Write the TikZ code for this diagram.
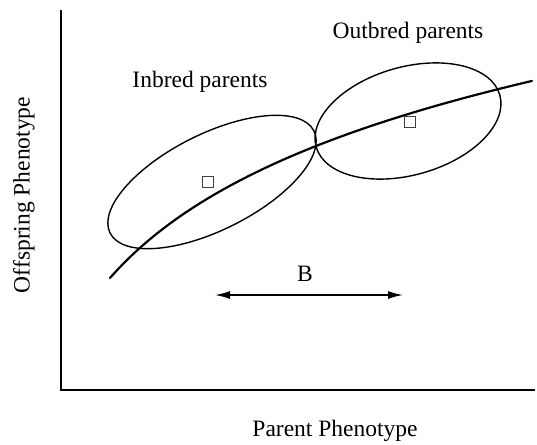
\documentclass[tikz,border=0pt]{standalone}
\usepackage{fontspec}
\setmainfont{Liberation Serif}
\usetikzlibrary{arrows.meta}
\begin{document}
\begin{tikzpicture}[x=1pt,y=1pt,
  lbl/.style={font=\fontsize{23.5}{25}\selectfont, inner sep=0pt},
  axis/.style={line width=1.4pt},
  ell/.style={line width=1.4pt},
  sq/.style={draw=black!75, line width=1pt, minimum size=11pt, inner sep=0pt},
  barrow/.style={line width=1.4pt, {Latex[length=15pt,width=8pt]}-{Latex[length=15pt,width=8pt]}}]
\useasboundingbox (0,0) rectangle (537,-444);
% axes
\coordinate (ytop) at (61,-10);
\coordinate (orig) at (61,-390);
\coordinate (xend) at (535,-390);
\draw[axis] (ytop) -- (orig) -- (xend);
% ellipses
\draw[ell, rotate around={26.6:(212,-182)}] (212,-182) ellipse [x radius=114pt, y radius=48pt];
\draw[ell, rotate around={15.8:(408,-121)}] (408,-121) ellipse [x radius=95.4pt, y radius=54pt];
% regression curve
\draw[line width=2.2pt, line cap=round] plot[domain=110:532, samples=80, smooth] ({\x},{-(865.5-125*ln(\x))});
% means
\node[sq] (m1) at (208,-182) {};
\node[sq] (m2) at (410,-122) {};
% arrow B
\coordinate (bl) at (215,-295);
\coordinate (br) at (403,-295);
\draw[barrow] (bl) -- (br);
\node[lbl] (B) at (305,-274) {B};
% labels
\node[lbl] (inb) at (200,-82) {Inbred parents};
\node[lbl] (outb) at (408,-33) {Outbred parents};
\node[lbl] (xlab) at (335,-431) {Parent Phenotype};
\node[lbl, rotate=90] (ylab) at (24,-195) {Offspring Phenotype};
\end{tikzpicture}
\end{document}
